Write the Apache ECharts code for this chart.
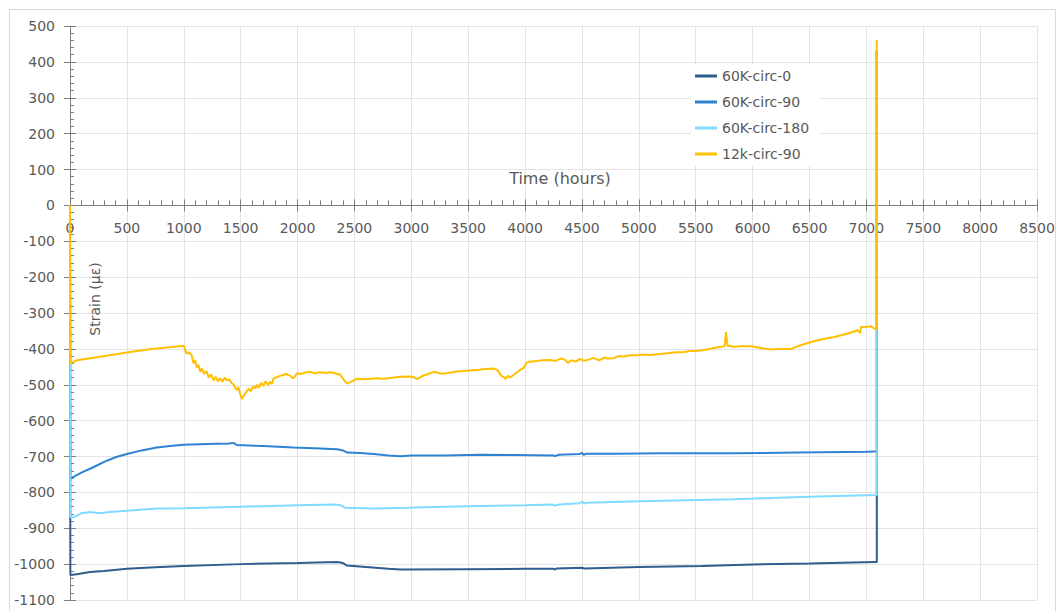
<!DOCTYPE html>
<html>
<head>
<meta charset="utf-8">
<script src="https://cdn.jsdelivr.net/npm/echarts@6/dist/echarts.min.js"></script>
<style>
html,body{margin:0;padding:0;background:#fff;}
#chart{width:1059px;height:611px;}
</style>
</head>
<body>
<div id="chart"></div>
<script>
// ---- data ----
const seriesNames = ['60K-circ-0', '60K-circ-90', '60K-circ-180', '12k-circ-90'];
const xTitle = 'Time (hours)';
const yTitle = 'Strain (µε)';

const circ0 = [[0,0],[3,-1030],[60,-1028],[175,-1022],[300,-1019],[500,-1013],[750,-1009],[1000,-1005],[1500,-1000],[2000,-997],[2348,-994],[2400,-997],[2436,-1004],[2600,-1008],[2800,-1013],[2905,-1015],[3500,-1014],[4000,-1013],[4250,-1013],[4260,-1015],[4280,-1012],[4500,-1010],[4520,-1012],[5000,-1008],[5555,-1005],[6000,-1001],[6500,-998],[7080,-994],[7092,-994],[7092,430]];

const circ90 = [[0,0],[3,-762],[100,-745],[205,-730],[300,-715],[400,-702],[500,-693],[630,-683],[763,-675],[900,-670],[1000,-667],[1200,-665],[1400,-664],[1438,-662],[1466,-668],[1700,-671],[1966,-675],[2200,-678],[2348,-680],[2400,-683],[2436,-689],[2550,-690],[2670,-693],[2800,-697],[2905,-699],[3000,-697],[3300,-697],[3600,-695],[3900,-696],[4250,-697],[4260,-699],[4300,-695],[4480,-693],[4500,-690],[4515,-695],[4540,-692],[4800,-692],[5200,-691],[5838,-691],[6400,-689],[7000,-687],[7080,-686],[7092,-686],[7092,430]];

const circ180 = [[0,0],[3,-869],[40,-868],[100,-858],[175,-855],[264,-858],[350,-855],[500,-851],[763,-845],[1000,-844],[1500,-840],[2000,-836],[2330,-834],[2380,-836],[2420,-843],[2670,-845],[2975,-843],[3200,-841],[3600,-838],[4000,-836],[4240,-834],[4260,-837],[4300,-834],[4480,-830],[4504,-826],[4520,-831],[4540,-829],[5000,-825],[5838,-819],[6500,-812],[7085,-807],[7092,-807],[7092,430]];

const k12circ90 = [[0,0],[2,-440],[60,-432],[180,-426],[350,-418],[500,-410],[700,-401],[850,-396],[1000,-391],
[1010,-400],[1025,-413],[1045,-410],[1070,-418],[1085,-440],[1100,-432],[1115,-452],[1130,-445],[1144,-464],[1160,-455],[1180,-470],[1200,-462],[1220,-480],[1240,-472],[1262,-488],[1280,-478],[1300,-490],[1320,-482],[1340,-492],[1360,-480],[1379,-488],[1400,-485],[1420,-495],[1440,-500],[1455,-510],[1467,-515],[1480,-506],[1495,-525],[1511,-540],[1530,-530],[1550,-520],[1570,-511],[1590,-518],[1610,-505],[1630,-510],[1643,-500],[1660,-508],[1680,-495],[1700,-503],[1720,-490],[1740,-500],[1761,-492],[1775,-498],[1790,-482],[1810,-480],[1840,-476],[1878,-472],[1900,-470],[1930,-474],[1960,-482],[1975,-478],[1995,-468],[2030,-470],[2070,-466],[2113,-464],[2150,-468],[2200,-465],[2250,-467],[2289,-465],[2330,-468],[2377,-472],[2410,-488],[2436,-497],[2470,-492],[2524,-483],[2600,-485],[2700,-482],[2758,-483],[2850,-480],[2900,-478],[2993,-477],[3030,-480],[3050,-484],[3100,-475],[3150,-470],[3198,-464],[3250,-468],[3286,-469],[3345,-466],[3400,-463],[3450,-462],[3521,-460],[3600,-458],[3650,-456],[3726,-455],[3760,-460],[3790,-475],[3810,-478],[3829,-484],[3850,-475],[3870,-480],[3902,-472],[3930,-465],[3960,-458],[3990,-452],[4010,-440],[4034,-436],[4100,-434],[4150,-432],[4225,-431],[4260,-434],[4313,-427],[4350,-430],[4380,-440],[4401,-432],[4450,-435],[4480,-428],[4519,-433],[4560,-430],[4600,-425],[4650,-432],[4700,-424],[4724,-427],[4780,-426],[4820,-420],[4871,-421],[4920,-418],[4988,-418],[5050,-416],[5100,-417],[5164,-415],[5250,-412],[5300,-410],[5399,-409],[5450,-406],[5500,-406],[5575,-403],[5650,-398],[5722,-394],[5755,-392],[5766,-353],[5772,-370],[5780,-391],[5839,-394],[5900,-393],[5986,-393],[6050,-396],[6100,-399],[6162,-402],[6250,-400],[6338,-400],[6420,-390],[6514,-381],[6600,-374],[6719,-367],[6830,-358],[6925,-348],[6945,-356],[6954,-339],[7000,-338],[7042,-337],[7071,-344],[7085,-343],[7092,-343],[7092,460]];

const seriesData = [circ0, circ90, circ180, k12circ90];
const seriesColors = ['#2F5D8E', '#2E82D2', '#7FDBFF', '#FFC000'];

const xMin = 0, xMax = 8500, xStep = 500;
const yMin = -1100, yMax = 500, yStep = 100;

// ---- chart ----
const chart = echarts.init(document.getElementById('chart'), null, {renderer: 'svg'});
const FONT = 'DejaVu Sans';
const TXT = '#595959';
const AX = '#7F7F7F';
const GRID = '#E3E3E3';

const G_TOP = 26, G_BOTTOM = 11, G_H = 611 - G_TOP - G_BOTTOM;
// bottom offset of the zero line, from the y range
const zeroBottom = G_BOTTOM + (0 - yMin) / (yMax - yMin) * G_H;

const plain = v => String(v);

const option = {
  backgroundColor: '#fff',
  animation: false,
  textStyle: {fontFamily: FONT},
  grid: [
    {left: 70, right: 22, top: G_TOP, bottom: G_BOTTOM, containLabel: false, outerBoundsMode: 'none'},
    {left: 70, right: 22, top: G_TOP, bottom: zeroBottom, containLabel: false, outerBoundsMode: 'none'}
  ],
  legend: {
    data: seriesNames,
    orient: 'vertical',
    left: 691, top: 64,
    padding: [4, 10, 4, 4],
    backgroundColor: '#fff',
    icon: 'rect',
    itemWidth: 22, itemHeight: 3, itemGap: 10,
    textStyle: {fontFamily: FONT, fontSize: 14, color: TXT, lineHeight: 16}
  },
  xAxis: [
    {type: 'value', gridIndex: 0, min: xMin, max: xMax, interval: xStep,
     axisLine: {show: false}, axisTick: {show: false}, axisLabel: {show: false},
     splitLine: {show: true, lineStyle: {color: GRID, width: 1}}},
    {type: 'value', gridIndex: 1, min: xMin, max: xMax, interval: xStep, position: 'bottom',
     axisLine: {show: true, onZero: false, lineStyle: {color: AX, width: 1}},
     axisTick: {show: true, inside: true, length: 6, lineStyle: {color: AX}},
     minorTick: {show: true, splitNumber: 5, length: 5, lineStyle: {color: AX}},
     axisLabel: {fontFamily: FONT, fontSize: 14, color: TXT, margin: 16, formatter: plain},
     splitLine: {show: false}},
    {type: 'value', gridIndex: 1, min: xMin, max: xMax, interval: xStep, position: 'bottom',
     axisLine: {show: false, onZero: false},
     axisTick: {show: true, inside: false, length: 6, lineStyle: {color: AX}},
     axisLabel: {show: false}, splitLine: {show: false}}
  ],
  yAxis: [
    {type: 'value', gridIndex: 0, min: yMin, max: yMax, interval: yStep, position: 'left',
     axisLine: {show: true, onZero: false, lineStyle: {color: AX, width: 1}},
     axisTick: {show: true, inside: true, length: 6, lineStyle: {color: AX}},
     minorTick: {show: true, splitNumber: 5, length: 4, lineStyle: {color: AX}},
     axisLabel: {fontFamily: FONT, fontSize: 14, color: TXT, margin: 15, formatter: plain},
     splitLine: {show: true, lineStyle: {color: GRID, width: 1}}},
    {type: 'value', gridIndex: 0, min: yMin, max: yMax, interval: yStep, position: 'left',
     axisLine: {show: false, onZero: false},
     axisTick: {show: true, inside: false, length: 6, lineStyle: {color: AX}},
     axisLabel: {show: false}, splitLine: {show: false}},
    {type: 'value', gridIndex: 1, min: 0, max: yMax, show: false}
  ],
  graphic: [
    {type: 'rect', left: 7, top: 7, shape: {width: 1046, height: 620}, style: {fill: 'none', stroke: '#D9D9D9', lineWidth: 1}, silent: true, z: -1},
    {type: 'text', x: 560, y: 178, style: {text: xTitle, fontFamily: FONT, fontSize: 16, fill: TXT, textAlign: 'center', textVerticalAlign: 'middle'}, z: 10},
    {type: 'text', x: 95, y: 299, rotation: Math.PI / 2, style: {text: yTitle, fontFamily: FONT, fontSize: 14, fill: TXT, textAlign: 'center', textVerticalAlign: 'middle'}, z: 10}
  ],
  series: seriesNames.map((n, i) => ({
    name: n,
    type: 'line',
    data: seriesData[i],
    xAxisIndex: 0,
    yAxisIndex: 0,
    showSymbol: false,
    symbol: 'none',
    lineStyle: {color: seriesColors[i], width: 2},
    itemStyle: {color: seriesColors[i]},
    z: 2 + i
  }))
};
chart.setOption(option);
</script>
</body>
</html>
